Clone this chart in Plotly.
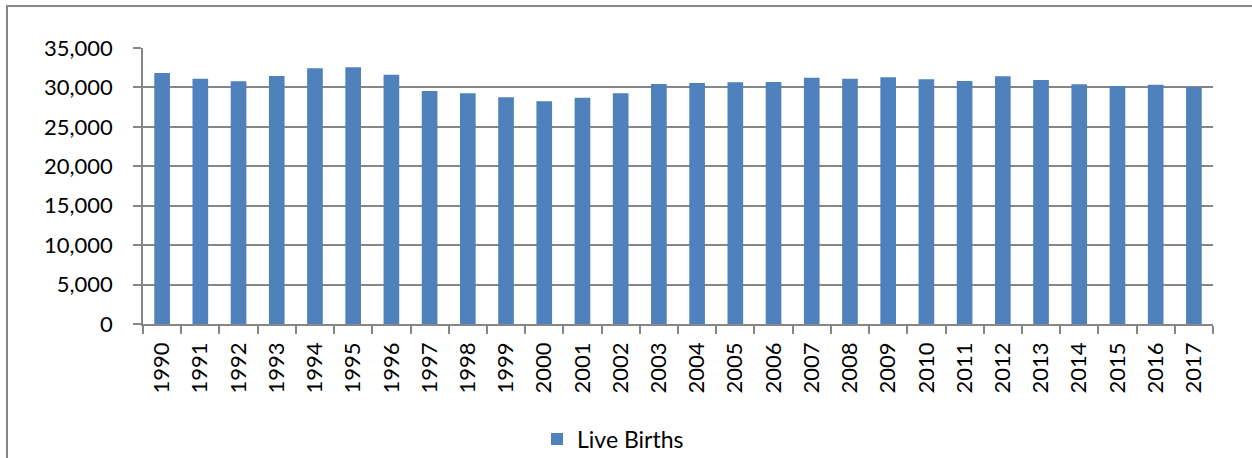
import plotly.graph_objects as go

years = [str(y) for y in range(1990, 2018)]
live_births = [31830, 31115, 30780, 31450, 32430, 32555, 31620, 29555, 29260, 28755,
               28250, 28705, 29260, 30440, 30570, 30655, 30695, 31240, 31115, 31290,
               31035, 30820, 31415, 30945, 30400, 30185, 30350, 30020]
y_ticks = [0, 5000, 10000, 15000, 20000, 25000, 30000, 35000]

W, H = 1252, 458
L, R, T, B = 143, 39, 48, 134
pw, ph = W - L - R, H - T - B

def px_x(px):
    return (px - L) / pw

def px_y(py):
    return (H - B - py) / ph

font = "Lato, 'Open Sans', sans-serif"
grey = "#868686"

fig = go.Figure()
fig.add_trace(go.Bar(
    x=years, y=live_births, name="Live Births",
    marker=dict(color="#4F81BD", line=dict(width=0)),
    showlegend=True,
))

fig.update_layout(
    width=W, height=H,
    margin=dict(l=L, r=R, t=T, b=B, pad=0, autoexpand=False),
    paper_bgcolor="white", plot_bgcolor="white",
    font=dict(family=font, size=22, color="black"),
    bargap=0.59,
    showlegend=True,
    legend=dict(x=px_x(537), y=px_y(439), xanchor="left", yanchor="middle",
                font=dict(size=23, family=font), bgcolor="rgba(0,0,0,0)"),
    xaxis=dict(type="category", showline=True, linecolor=grey, linewidth=1.5,
               ticks="outside", tickson="boundaries", ticklen=8, tickcolor=grey,
               tickwidth=1.5, tickangle=-90, showgrid=False, ticklabelstandoff=8,
               automargin=False),
    yaxis=dict(range=[0, 35000], tickvals=y_ticks, tickformat=",",
               showline=True, linecolor=grey, linewidth=1.5,
               ticks="outside", ticklen=8, tickcolor=grey, tickwidth=1.5,
               showgrid=True, gridcolor=grey, gridwidth=1.5,
               zeroline=False, ticklabelstandoff=16, automargin=False),
    shapes=[dict(type="rect", xref="paper", yref="paper",
                 x0=px_x(7), x1=px_x(1270), y0=px_y(480), y1=px_y(6),
                 line=dict(color=grey, width=2), fillcolor="rgba(0,0,0,0)",
                 layer="below")],
)

fig.write_html("out.html", config={"displayModeBar": False},
               post_script="document.body.style.margin='0';document.body.style.overflow='hidden';")
